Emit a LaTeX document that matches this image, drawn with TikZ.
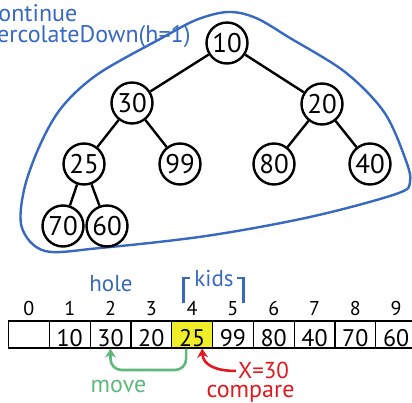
\documentclass[tikz,border=0pt]{standalone}
\usepackage{fontspec}
\setmainfont{PT Sans}
\usetikzlibrary{arrows.meta}

\definecolor{hblue}{RGB}{55,105,195}
\definecolor{hgreen}{RGB}{95,185,125}
\definecolor{hred}{RGB}{225,25,30}
\definecolor{hyellow}{RGB}{240,238,40}

\newcommand{\fsz}[1]{\fontsize{#1}{#1}\selectfont}

\tikzset{
  treenode/.style={circle, draw, line width=2.4pt, minimum size=41pt, inner sep=0pt, font=\fsz{27}},
  treeedge/.style={line width=2.4pt},
  cellbox/.style={draw, line width=1.2pt, minimum width=40.8pt, minimum height=27pt,
                  inner sep=0pt, text height=25pt, text depth=2pt, font=\fsz{24}},
  idx/.style={anchor=base, font=\fsz{20}},
  bluetext/.style={text=hblue, font=\fsz{23}, inner sep=0pt},
  subtree/.style={draw=hblue, line width=2.4pt},
  bracket/.style={draw=hblue, line width=2.2pt},
  movearrow/.style={draw=hgreen, line width=2.6pt, rounded corners=11pt, -{Stealth[length=9pt,width=11pt]}},
  cmparrow/.style={draw=hred, line width=2.6pt, -{Stealth[length=9pt,width=11pt]}}
}

\begin{document}
\begin{tikzpicture}[x=1pt,y=-1pt]
\useasboundingbox (0,0) rectangle (412,403);
\clip (0,0) rectangle (412,403);

% caption of the step
\node[bluetext, font=\fsz{24}, anchor=base west] (cap1) at (-12,22) {continue};
\node[bluetext, font=\fsz{24}, anchor=base west] (cap2) at (-16,43) {percolateDown(h=1)};

% outline around the subtree being fixed
\draw[subtree] plot[smooth cycle, tension=0.55] coordinates {
  (228,12) (256,18) (290,38) (345,72) (384,112) (405,158) (410,182) (396,194)
  (310,217) (206,236) (100,248) (45,251) (22,228) (24,190) (40,145) (62,107)
  (98,74) (160,39) (196,20)};

% heap as a tree
\node[treenode] (n10) at (227,43) {10};
\node[treenode] (n30) at (132,103) {30};
\node[treenode] (n20) at (322,104) {20};
\node[treenode] (n25) at (84,164) {25};
\node[treenode] (n99) at (180,164) {99};
\node[treenode] (n80) at (274,164) {80};
\node[treenode] (n40) at (370,164) {40};
\node[treenode] (n70) at (63,226) {70};
\node[treenode] (n60) at (107,226) {60};

\draw[treeedge] (n10) -- (n30);
\draw[treeedge] (n10) -- (n20);
\draw[treeedge] (n30) -- (n25);
\draw[treeedge] (n30) -- (n99);
\draw[treeedge] (n20) -- (n80);
\draw[treeedge] (n20) -- (n40);
\draw[treeedge] (n25) -- (n70);
\draw[treeedge] (n25) -- (n60);

% heap as an array
\foreach \i/\v in {0/,1/10,2/30,3/20,5/99,6/80,7/40,8/70,9/60}{
  \node[cellbox] (c\i) at (28.9+40.8*\i,334.5) {\v};
}
\node[cellbox, fill=hyellow] (c4) at (28.9+40.8*4,334.5) {25};
\foreach \i in {0,...,9}{
  \node[idx] (i\i) at (28.9+40.8*\i,315) {\i};
}

% labels above the array
\node[bluetext, anchor=base] (hole) at (111,291) {hole};
\node[bluetext, anchor=base] (kids) at (214,287) {kids};
\draw[bracket] (190,278) -- (183.5,278) -- (183.5,303);
\draw[bracket] (237,278) -- (243.5,278) -- (243.5,303);

% move arrow
\coordinate (mvstart) at ([xshift=-6pt]c4.south);
\coordinate (mvlow) at (110.5,370);
\draw[movearrow] (mvstart) |- (mvlow) -- (c2.south);
\node[anchor=base, text=hgreen, font=\fsz{24}, inner sep=0pt] (move) at (118.5,392) {move};

% compare arrow
\node[anchor=base, text=hred, font=\fsz{23}, inner sep=0pt] (xval) at (263.5,378) {X=30};
\node[anchor=base, text=hred, font=\fsz{24}, inner sep=0pt] (cmp) at (250.5,397) {compare};
\coordinate (cmpend) at ([xshift=10pt]c4.south);
\draw[cmparrow] ([shift={(-2pt,-1pt)}]xval.west) .. controls (214,371) and (203,364) .. (cmpend);
\end{tikzpicture}
\end{document}
